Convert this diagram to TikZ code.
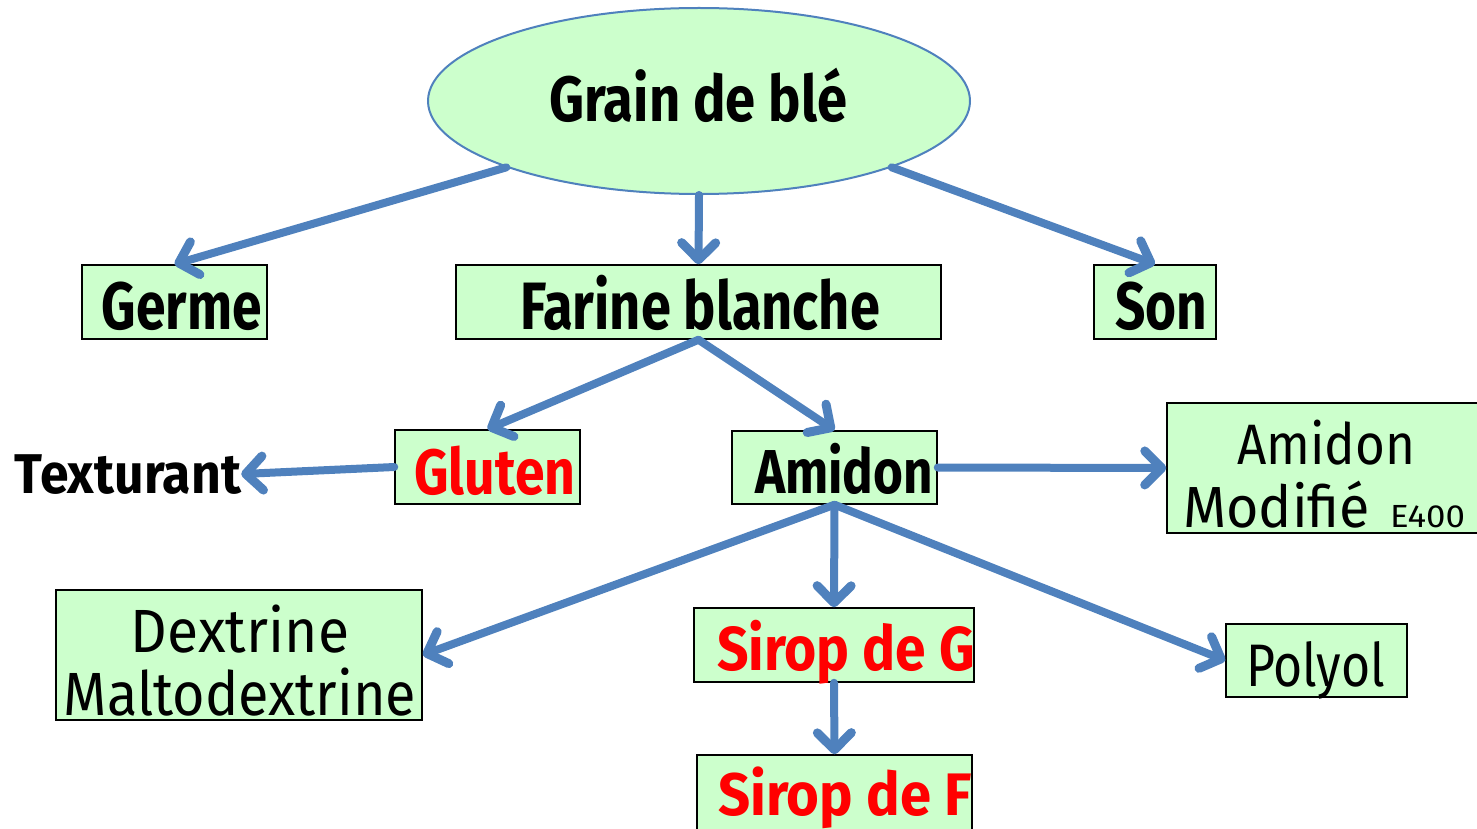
\documentclass[tikz,border=0pt]{standalone}
\usepackage{fontspec}
\setmainfont{Fira Sans}
\usetikzlibrary{shapes.geometric,arrows.meta}
\definecolor{boxgreen}{HTML}{CCFFCC}
\definecolor{linkblue}{HTML}{4F81BD}
\definecolor{hotred}{HTML}{FF0000}
% font size in pt, and a text squeezed to a given width
\newcommand\fsz[1]{\fontsize{#1}{#1}\selectfont}
\newcommand\sq[2]{\resizebox{#1pt}{\height}{#2}}
\tikzset{
  box/.style={draw=black, line width=1.5pt, fill=boxgreen, inner sep=0pt},
  txt/.style={anchor=base, inner sep=0pt},
  link/.style={draw=linkblue, line width=8pt, line cap=round,
    -{Straight Barb[length=17pt,width=34pt,line width=9pt,round]}},
}
\begin{document}
\begin{tikzpicture}[x=1pt,y=-1pt]
\useasboundingbox (0,0) rectangle (1477,829);
\clip (0,0) rectangle (1477,829);

% root
\node[ellipse, draw=linkblue, line width=2pt, fill=boxgreen,
      minimum width=542pt, minimum height=186pt] (grain) at (699,101) {};
\node[txt] (t-grain) at (698,122) {\fsz{64}\bfseries\sq{298}{Grain de blé}};

% boxes
\node[box, minimum width=185pt, minimum height=74pt] (germe)     at (174.5,302) {};
\node[box, minimum width=485pt, minimum height=74pt] (farine)    at (698.5,302) {};
\node[box, minimum width=122pt, minimum height=74pt] (son)       at (1155,302) {};
\node[box, minimum width=185pt, minimum height=74pt] (gluten)    at (487.5,467) {};
\node[box, minimum width=205pt, minimum height=73pt] (amidon)    at (834.5,467.5) {};
\node[box, minimum width=312pt, minimum height=130pt] (amidonmod) at (1323,468) {};
\node[box, minimum width=366pt, minimum height=130pt] (dextrine) at (239,655) {};
\node[box, minimum width=280pt, minimum height=74pt] (siropg)    at (834,645) {};
\node[box, minimum width=181pt, minimum height=73pt] (polyol)    at (1316.5,660.5) {};
\node[box, minimum width=275pt, minimum height=90pt] (siropf)    at (834.5,800) {};

% texts
\node[txt] (t-germe)  at (182,329)  {\fsz{67}\bfseries\sq{160}{Germe}};
\node[txt] (t-farine) at (700,329)  {\fsz{67}\bfseries\sq{360}{Farine blanche}};
\node[txt] (t-son)    at (1161,329) {\fsz{67}\bfseries\sq{92}{Son}};
\node[txt, text=hotred] (t-gluten) at (495,494) {\fsz{64}\bfseries\sq{161}{Gluten}};
\node[txt] (t-amidon) at (844,493)  {\fsz{62}\bfseries\sq{178}{Amidon}};
\node[txt] (texturant) at (128,493) {\fsz{56}\bfseries\sq{226}{Texturant}};
\node[txt] (t-am1) at (1326,464) {\fsz{57}\sq{178}{Amidon}};
\node[txt] (t-am2) at (1324,527) {\fsz{58}\sq{187}{Modifié}\hspace{20pt}{\fsz{32}\sq{75}{E400}}};
\node[txt] (t-dex1) at (240,652) {\fsz{61}\sq{218}{Dextrine}};
\node[txt] (t-dex2) at (240,715) {\fsz{61}\sq{352}{Maltodextrine}};
\node[txt, text=hotred] (t-siropg) at (846,670) {\fsz{62}\bfseries\sq{258}{Sirop de G}};
\node[txt, text=hotred] (t-siropf) at (845,815) {\fsz{60}\bfseries\sq{254}{Sirop de F}};
\node[txt] (t-polyol) at (1315.5,686) {\fsz{60}\sq{139}{Polyol}};

% connectors
\draw[link] (grain.199) -- (germe.north);
\draw[link] (grain.south) -- (farine.north);
\draw[link] (grain.341) -- (son.north);
\draw[link] (farine.south) -- (gluten.north);
\draw[link] (farine.south) -- (amidon.north);
\draw[link] (gluten.west) -- (texturant.east);
\draw[link] (amidon.east) -- (amidonmod.west);
\draw[link] (amidon.south) -- (dextrine.east);
\draw[link] (amidon.south) -- (siropg.north);
\draw[link] (amidon.south) -- (polyol.west);
\draw[link] (siropg.south) -- (siropf.north);
\end{tikzpicture}
\end{document}
